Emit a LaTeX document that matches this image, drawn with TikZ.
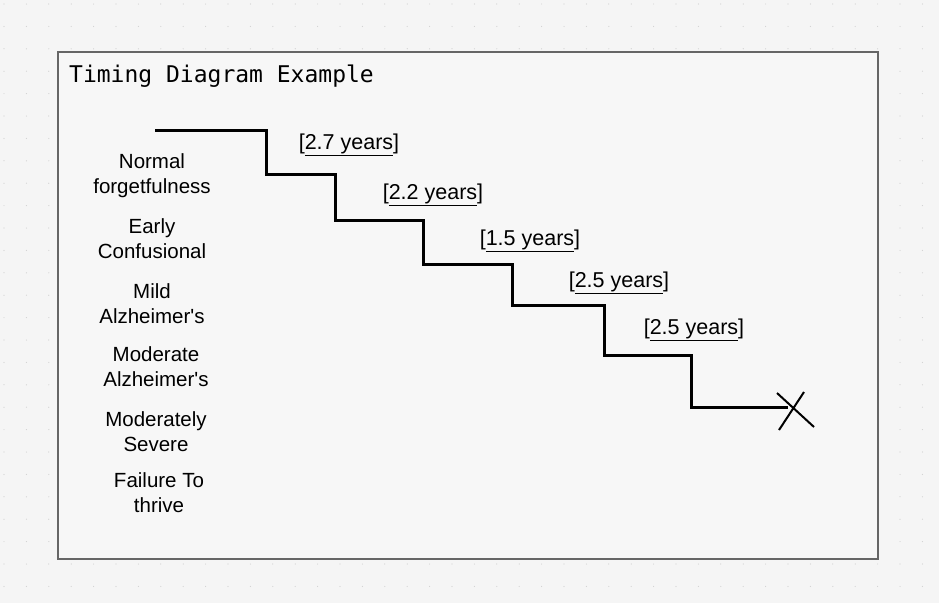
\documentclass[tikz,border=0pt]{standalone}
\usepackage{fontspec}
\setmainfont{Liberation Sans}
\newfontfamily\monof{DejaVu Sans Mono}
\begin{document}
\begin{tikzpicture}[x=1pt,y=-1pt,
  lbl/.style={font=\fontsize{20.5}{25}\selectfont, align=center, inner sep=0},
  dur/.style={font=\fontsize{21.5}{25}\selectfont, inner sep=0},
  stepline/.style={line width=3pt, line join=miter}]
\useasboundingbox (0,0) rectangle (939,603);
\fill[white!96!black] (0,0) rectangle (939,603);
\foreach \i in {0,...,42} \foreach \j in {0,...,27}
  \fill[black!18] (\i*22.4+4,\j*22.4+4) circle (0.6);
\draw[black!60, line width=1.2pt, fill=white!97!black] (58,52) rectangle (878,559);
\node[anchor=west, inner sep=0, font=\monof\fontsize{23}{26}\selectfont] (title) at (69,76) {Timing Diagram Example};
\node[lbl] (l1) at (152,176) {Normal\\forgetfulness};
\node[lbl] (l2) at (152,239) {Early\\Confusional};
\node[lbl] (l3) at (152,304) {Mild\\Alzheimer\textquotesingle s};
\node[lbl] (l4) at (156,367) {Moderate\\Alzheimer\textquotesingle s};
\node[lbl] (l5) at (156,432) {Moderately\\Severe};
\node[lbl] (l6) at (159,493) {Failure To\\thrive};
\node[dur] (d1) at (349,145) {[\underline{2.7 years}]};
\node[dur] (d2) at (433,195) {[\underline{2.2 years}]};
\node[dur] (d3) at (530,241) {[\underline{1.5 years}]};
\node[dur] (d4) at (619,283) {[\underline{2.5 years}]};
\node[dur] (d5) at (694,330) {[\underline{2.5 years}]};
\coordinate (s) at (155,130);
\coordinate (e) at (788,407);
\draw[stepline] (s) -- (266,130) -- (266,174) -- (335,174) -- (335,220) -- (423,220) -- (423,264) -- (512,264) -- (512,305) -- (604,305) -- (604,355) -- (691,355) -- (691,407) -- (e);
\coordinate (x1) at (777,393); \coordinate (x2) at (814,427);
\coordinate (x3) at (779,430); \coordinate (x4) at (804,392);
\draw[line width=2pt] (x1) -- (x2) (x3) -- (x4);
\end{tikzpicture}
\end{document}
